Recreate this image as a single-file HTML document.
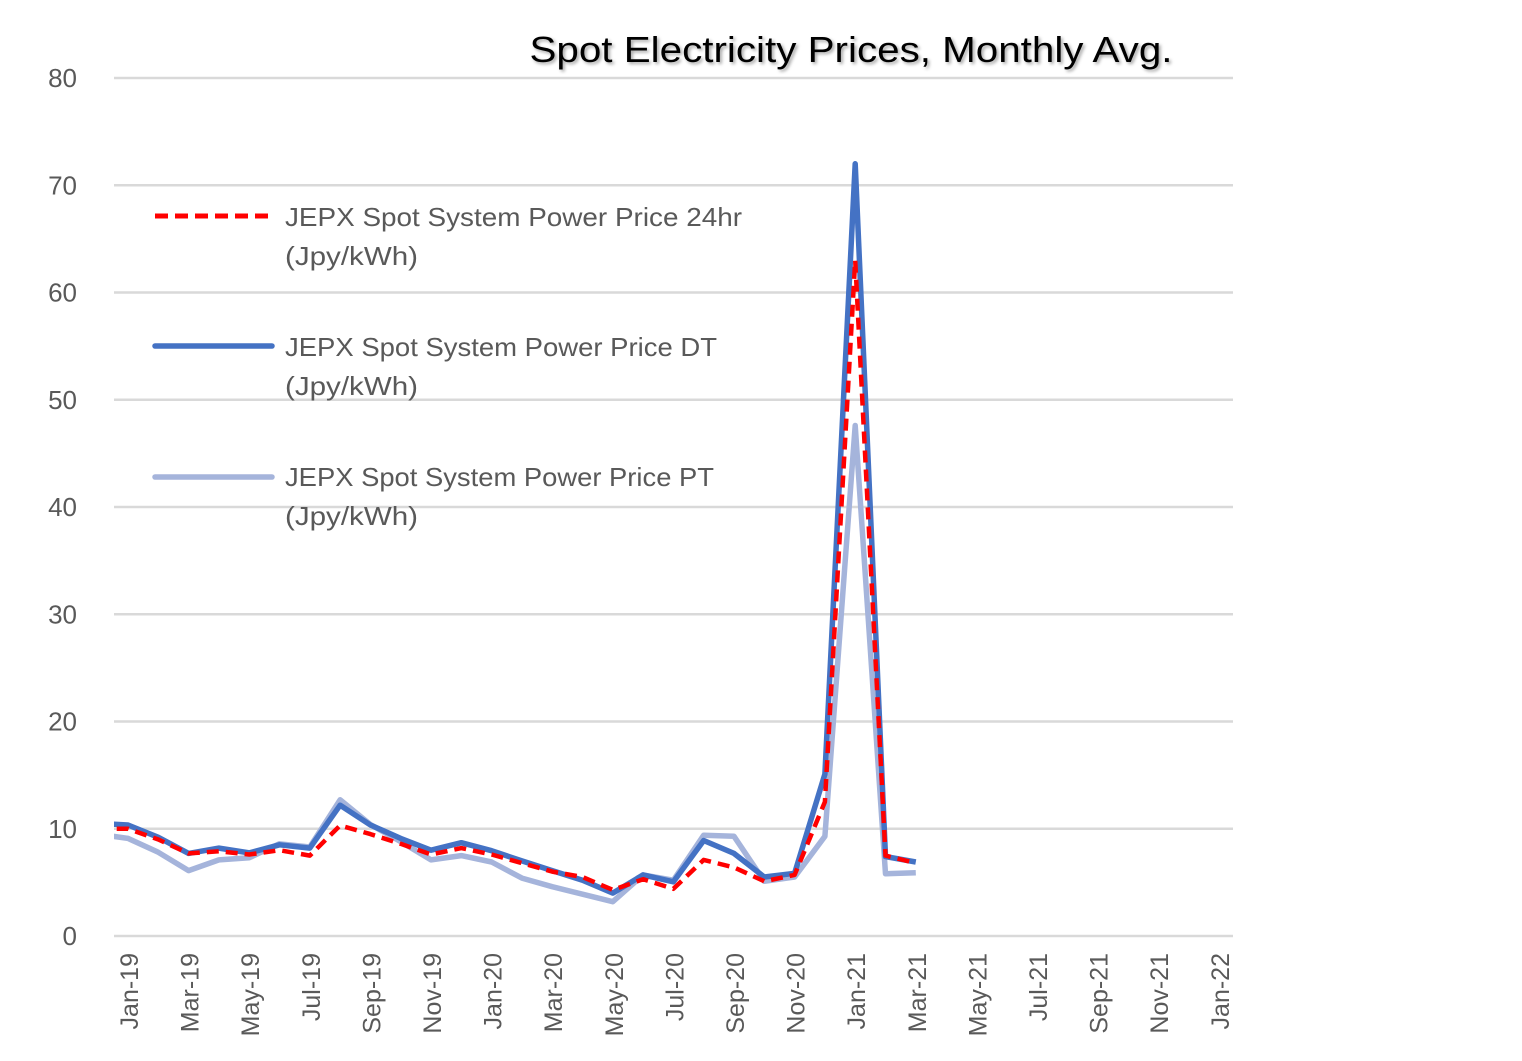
<!DOCTYPE html>
<html><head><meta charset="utf-8"><style>
html,body{margin:0;padding:0;background:#fff;}
svg{display:block;font-family:"Liberation Sans",sans-serif;}
</style></head><body>
<svg id="chart" width="1522" height="1061" viewBox="0 0 1522 1061" xmlns="http://www.w3.org/2000/svg">
<defs>
<clipPath id="plotclip"><rect x="114" y="60" width="1119" height="900"/></clipPath>
<filter id="sh" x="-5%" y="-20%" width="110%" height="150%"><feDropShadow dx="2" dy="2" stdDeviation="1.5" flood-color="#000" flood-opacity="0.35"/></filter>
</defs>
<text x="851" y="62" text-anchor="middle" font-size="36" textLength="643" lengthAdjust="spacingAndGlyphs" fill="#000" filter="url(#sh)">Spot Electricity Prices, Monthly Avg.</text>
<g id="grid"></g>
<g id="yticks"></g>
<g id="xticks"></g>
<g id="series" clip-path="url(#plotclip)"></g>
<g id="legend">
  <line x1="155" y1="216" x2="270" y2="216" stroke="#ff0000" stroke-width="5" stroke-dasharray="13,7"/>
  <text x="285" y="226" font-size="26" textLength="457" lengthAdjust="spacingAndGlyphs" fill="#595959">JEPX Spot System Power Price 24hr</text>
  <text x="285" y="265" font-size="26" textLength="133" lengthAdjust="spacingAndGlyphs" fill="#595959">(Jpy/kWh)</text>
  <line x1="155" y1="346" x2="272" y2="346" stroke="#4472c4" stroke-width="5.5" stroke-linecap="round"/>
  <text x="285" y="356" font-size="26" textLength="432" lengthAdjust="spacingAndGlyphs" fill="#595959">JEPX Spot System Power Price DT</text>
  <text x="285" y="395" font-size="26" textLength="133" lengthAdjust="spacingAndGlyphs" fill="#595959">(Jpy/kWh)</text>
  <line x1="155" y1="477" x2="272" y2="477" stroke="#a5b4db" stroke-width="5.5" stroke-linecap="round"/>
  <text x="285" y="486" font-size="26" textLength="429" lengthAdjust="spacingAndGlyphs" fill="#595959">JEPX Spot System Power Price PT</text>
  <text x="285" y="525" font-size="26" textLength="133" lengthAdjust="spacingAndGlyphs" fill="#595959">(Jpy/kWh)</text>
</g>
</svg>
<script>
// month index: 0 = Dec-18, 1 = Jan-19 ... 27 = Mar-21
const months = ["Dec-18","Jan-19","Feb-19","Mar-19","Apr-19","May-19","Jun-19","Jul-19","Aug-19","Sep-19","Oct-19","Nov-19","Dec-19","Jan-20","Feb-20","Mar-20","Apr-20","May-20","Jun-20","Jul-20","Aug-20","Sep-20","Oct-20","Nov-20","Dec-20","Jan-21","Feb-21","Mar-21"];
const price24hr = [10.0,10.0,9.0,7.7,7.9,7.6,8.0,7.5,10.3,9.5,8.6,7.6,8.2,7.6,6.8,6.0,5.5,4.3,5.3,4.4,7.1,6.4,5.1,5.7,12.5,63.0,7.5,6.8];
const priceDT = [10.5,10.35,9.2,7.7,8.2,7.75,8.5,8.2,12.2,10.35,9.1,8.0,8.7,7.95,7.0,6.1,5.2,4.0,5.7,5.05,8.9,7.7,5.5,5.85,15.1,72.0,7.4,6.9];
const pricePT = [9.5,9.1,7.8,6.1,7.1,7.3,8.6,8.3,12.7,10.4,8.8,7.1,7.5,6.9,5.4,4.6,3.9,3.2,5.7,5.2,9.4,9.3,5.1,5.5,9.3,47.6,5.8,5.9];
const yTicks = [0,10,20,30,40,50,60,70,80];
const xTickLabels = ["Jan-19","Mar-19","May-19","Jul-19","Sep-19","Nov-19","Jan-20","Mar-20","May-20","Jul-20","Sep-20","Nov-20","Jan-21","Mar-21","May-21","Jul-21","Sep-21","Nov-21","Jan-22"];

const NS="http://www.w3.org/2000/svg";
function yS(v){return 936-v*10.725;}
function xS(i){return 128+(i-1)*30.3;}
function mk(tag,attrs,parent){const e=document.createElementNS(NS,tag);for(const k in attrs)e.setAttribute(k,attrs[k]);parent.appendChild(e);return e;}

const grid=document.getElementById('grid'), yt=document.getElementById('yticks'), xt=document.getElementById('xticks'), ser=document.getElementById('series');
yTicks.forEach(v=>{
  const l=mk('line',{x1:114,x2:1233,y1:yS(v),y2:yS(v),stroke:'#d9d9d9','stroke-width':2.5},grid);
  
  
  const t=mk('text',{x:77,y:yS(v)+9,'text-anchor':'end','font-size':26,fill:'#595959'},yt);
  t.textContent=v;
  
  
});
xTickLabels.forEach((s,k)=>{
  const cx=128+k*60.6+10, y=953;
  const t=mk('text',{x:cx,y:y,'text-anchor':'end','font-size':25,fill:'#595959',transform:`rotate(-90 ${cx} ${y})`},xt);
  t.textContent=s;
  
  
});
function line(vals,attrs,name){
  const pts=vals.map((v,i)=>xS(i).toFixed(1)+','+yS(v).toFixed(1)).join(' ');
  const p=mk('polyline',Object.assign({points:pts,fill:'none','stroke-linejoin':'round'},attrs),ser);
  
  
}
line(pricePT,{stroke:'#a5b4db','stroke-width':5.5},'series-pt-line');
line(priceDT,{stroke:'#4472c4','stroke-width':5.5},'series-dt-line');
line(price24hr,{stroke:'#ff0000','stroke-width':4.5,'stroke-dasharray':'12,7'},'series-24hr-line');
</script>
</body></html>
